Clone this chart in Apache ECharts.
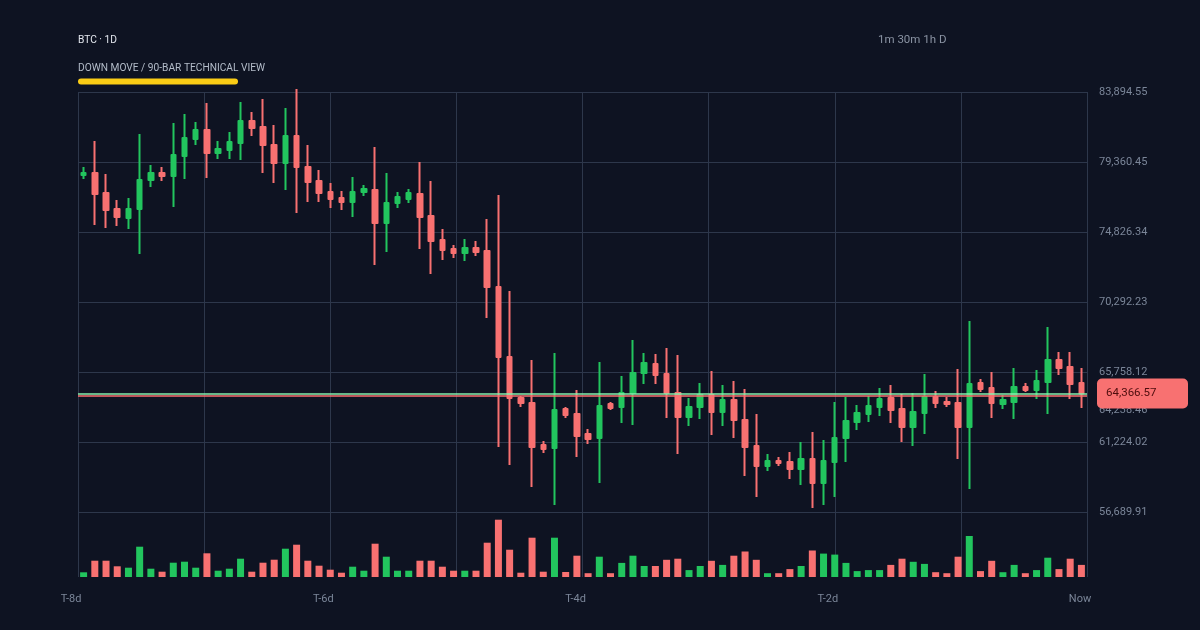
<!DOCTYPE html>
<html><head><meta charset="utf-8">
<script src="https://cdn.jsdelivr.net/npm/echarts@6/dist/echarts.min.js"></script>
<style>html,body{margin:0;padding:0;background:#0e1322;}#c{width:1200px;height:630px;}</style>
</head><body><div id="c"></div>
<script>
// ---- data ----
const opens  = [78518,78648,77353,76316,75733,76316,78195,78648,78454,79749,80850,81433,79944,80138,80591,82016,81628,80462,79296,81045,
                79037,78130,77417,77029,76770,77417,77547,75409,76705,76964,77288,75863,74308,73725,73466,73790,73596,71264,66730,64074,
                63750,61030,60835,63362,63038,61742,61483,63685,63491,64398,65693,66276,65629,64398,62843,63491,64268,63167,63945,62649,
                60965,59670,59993,59929,59475,60123,58568,59929,61483,62520,63038,63491,64074,63362,62196,63103,64139,63815,63750,62196,
                65046,64722,63685,63815,64787,64592,65111,66535,66082,65046];
const closes = [78648,77288,76251,75798,76316,78195,78648,78454,79814,80915,81433,79944,80203,80656,82016,81563,80462,79296,81045,79037,
                78065,77353,76964,76770,77417,77612,75409,76705,77093,77353,75798,74243,73661,73466,73790,73531,71264,66730,64074,63750,
                60900,60771,63297,62973,61613,61418,63556,63426,64398,65693,66341,65564,64398,62843,63491,64268,63167,63945,62649,60900,
                59670,59993,59864,59475,60123,58568,59993,61483,62584,63103,63556,64009,63297,62196,63167,64139,63750,63685,62196,64981,
                64657,63750,63945,64787,64592,65175,66535,66017,64981,64366.57];
const lows   = [78259,75280,75086,75215,75021,73401,77741,78130,76446,78259,80462,78324,79555,79555,79490,81045,78648,78000,77547,76057,
                76770,76770,76381,76251,75798,77158,72689,73531,76381,76705,73725,72106,73013,73142,72948,73272,69256,60900,59734,63491,
                58309,60512,57143,62779,60252,61095,58568,63297,62455,62325,64981,64981,62779,60447,62261,62714,61677,62261,61483,59022,
                57662,59346,59670,58828,58439,56949,57143,57662,59929,62001,62520,62908,62455,61224,60965,61742,63426,63491,60123,58180,
                64463,62779,63362,62714,64463,64009,63038,65564,64009,63426];
const highs  = [79037,80721,78583,76899,77029,81174,79166,79037,81887,82470,81952,83182,80721,81304,83247,82599,83441,81757,82858,84089,
                80462,78842,78000,77482,78389,77871,80332,78648,77417,77612,79361,78130,75021,73984,74373,74243,75669,77223,71005,64204,
                66535,61289,66989,63491,64592,62066,66406,63815,65499,67831,66989,66924,67313,66859,64074,65046,65823,64916,65175,64657,
                63038,60447,60252,60576,61224,61872,61354,63815,64139,63621,64204,64722,64916,64333,64398,65629,64528,64139,65953,69062,
                65305,65758,64268,66017,65046,65888,68673,67054,67054,66017];
const volumes = [470,1630,1630,1070,930,3030,830,530,1430,1530,930,2370,630,830,1830,530,1430,1730,2830,3230,
                 1630,1130,730,430,1030,630,3330,2030,630,630,1630,1630,1030,630,630,630,3430,5730,2730,430,
                 3930,530,3930,500,2130,380,2030,380,1410,2130,1100,1100,1720,1830,690,1100,1620,1210,2130,2550,
                 1720,380,380,790,1100,2650,2340,2240,1410,590,690,690,1210,1830,1520,1310,480,380,2030,4100,
                 590,1620,480,1210,380,690,1930,790,1830,1210];
const xTickLabels = ['T-8d', 'T-6d', 'T-4d', 'T-2d', 'Now'];
const timeframes = ['1m', '30m', '1h', 'D'];
const symbolLabel = 'BTC · 1D';
const subtitle = 'DOWN MOVE / 90-BAR TECHNICAL VIEW';
const priceMin = 56689.909, priceMax = 83894.554, priceStep = 4534.1075;
const volumeMax = 6500;
const lastPrice = 64366.57;
const refLevel = 64238.46;

// ---- styling ----
const UP = '#22c55e', DOWN = '#f87171';
const BG = '#0e1322', GRID = '#2d374b', AXIS_TXT = '#7b8699';
const FONT = 'Roboto, "Noto Sans", sans-serif';
const fmt = v => Number(v).toLocaleString('en-US', {minimumFractionDigits: 2, maximumFractionDigits: 2});

const cats = opens.map((_, i) => String(i));
const candleData = opens.map((o, i) => [o, closes[i], lows[i], highs[i]]);
const volData = volumes.map((v, i) => ({value: v, itemStyle: {color: closes[i] >= opens[i] ? UP : DOWN}}));

const chart = echarts.init(document.getElementById('c'), null, {renderer: 'canvas'});
const xValueAxis = (grid, withLabels) => ({
  type: 'value', gridIndex: grid, min: -0.5, max: 89.5, interval: 11.25, position: 'bottom',
  axisLine: {show: false}, axisTick: {show: false},
  splitLine: {show: true, lineStyle: {color: GRID, width: 1}},
  axisLabel: withLabels ? {
    show: true, color: AXIS_TXT, fontSize: 11, fontFamily: FONT, margin: 17,
    padding: [0, 14, 0, 0],
    formatter: (v, idx) => (idx % 2 === 0 ? (xTickLabels[idx / 2] || '') : '')
  } : {show: false}
});

chart.setOption({
  backgroundColor: BG,
  animation: false,
  textStyle: {fontFamily: FONT},
  grid: [
    {left: 78, right: 113, top: 92, height: 420},
    {left: 78, right: 113, top: 512, height: 65}
  ],
  xAxis: [
    {type: 'category', gridIndex: 0, data: cats, boundaryGap: true, show: false},
    xValueAxis(0, false),
    {type: 'category', gridIndex: 1, data: cats, boundaryGap: true, show: false},
    xValueAxis(1, true)
  ],
  yAxis: [
    {type: 'value', gridIndex: 0, position: 'right', min: priceMin, max: priceMax, interval: priceStep,
     axisLine: {show: false}, axisTick: {show: false},
     axisLabel: {color: AXIS_TXT, fontSize: 11, fontFamily: FONT, margin: 12, formatter: v => fmt(v)},
     splitLine: {show: true, lineStyle: {color: GRID, width: 1}}},
    {type: 'value', gridIndex: 1, min: 0, max: volumeMax, show: false}
  ],
  series: [
    {
      type: 'candlestick', xAxisIndex: 0, yAxisIndex: 0, data: candleData,
      barWidth: 5, clip: false,
      itemStyle: {color: UP, color0: DOWN, borderColor: UP, borderColor0: DOWN, borderColorDoji: UP,
                  borderWidth: 2, borderJoin: 'round'},
      markLine: {
        symbol: ['none', 'none'], silent: true, animation: false,
        data: [
          {yAxis: refLevel, lineStyle: {color: DOWN, width: 1.5, type: 'solid'},
           label: {show: true, position: 'end', distance: 12, offset: [0, 15], color: AXIS_TXT,
                   fontSize: 11, fontFamily: FONT, formatter: p => fmt(p.value)}},
          {yAxis: lastPrice, lineStyle: {color: '#86efac', width: 1.5, type: 'solid'},
           label: {show: true, position: 'end', distance: 10, formatter: p => fmt(p.value),
                   backgroundColor: DOWN, color: '#4d0d0d', borderRadius: 5, padding: [9, 9, 9, 9],
                   width: 73, fontSize: 11.5, fontFamily: FONT}}
        ]
      }
    },
    {type: 'bar', xAxisIndex: 2, yAxisIndex: 1, data: volData, barWidth: 7}
  ],
  graphic: [
    {type: 'text', x: 78, y: 40, style: {text: symbolLabel, fill: '#e3e7ee', font: '10.2px ' + FONT, verticalAlign: 'middle'}},
    {type: 'text', x: 78, y: 68, style: {text: subtitle, fill: '#b3bcc9', font: '10.2px ' + FONT, verticalAlign: 'middle'}},
    {type: 'rect', shape: {x: 78, y: 78.5, width: 160, height: 6, r: 3}, style: {fill: '#facc15'}},
    {type: 'text', x: 878, y: 40, style: {text: timeframes.join(' '), fill: '#8a93a3', font: '11.5px ' + FONT, verticalAlign: 'middle'}}
  ]
});
</script></body></html>
